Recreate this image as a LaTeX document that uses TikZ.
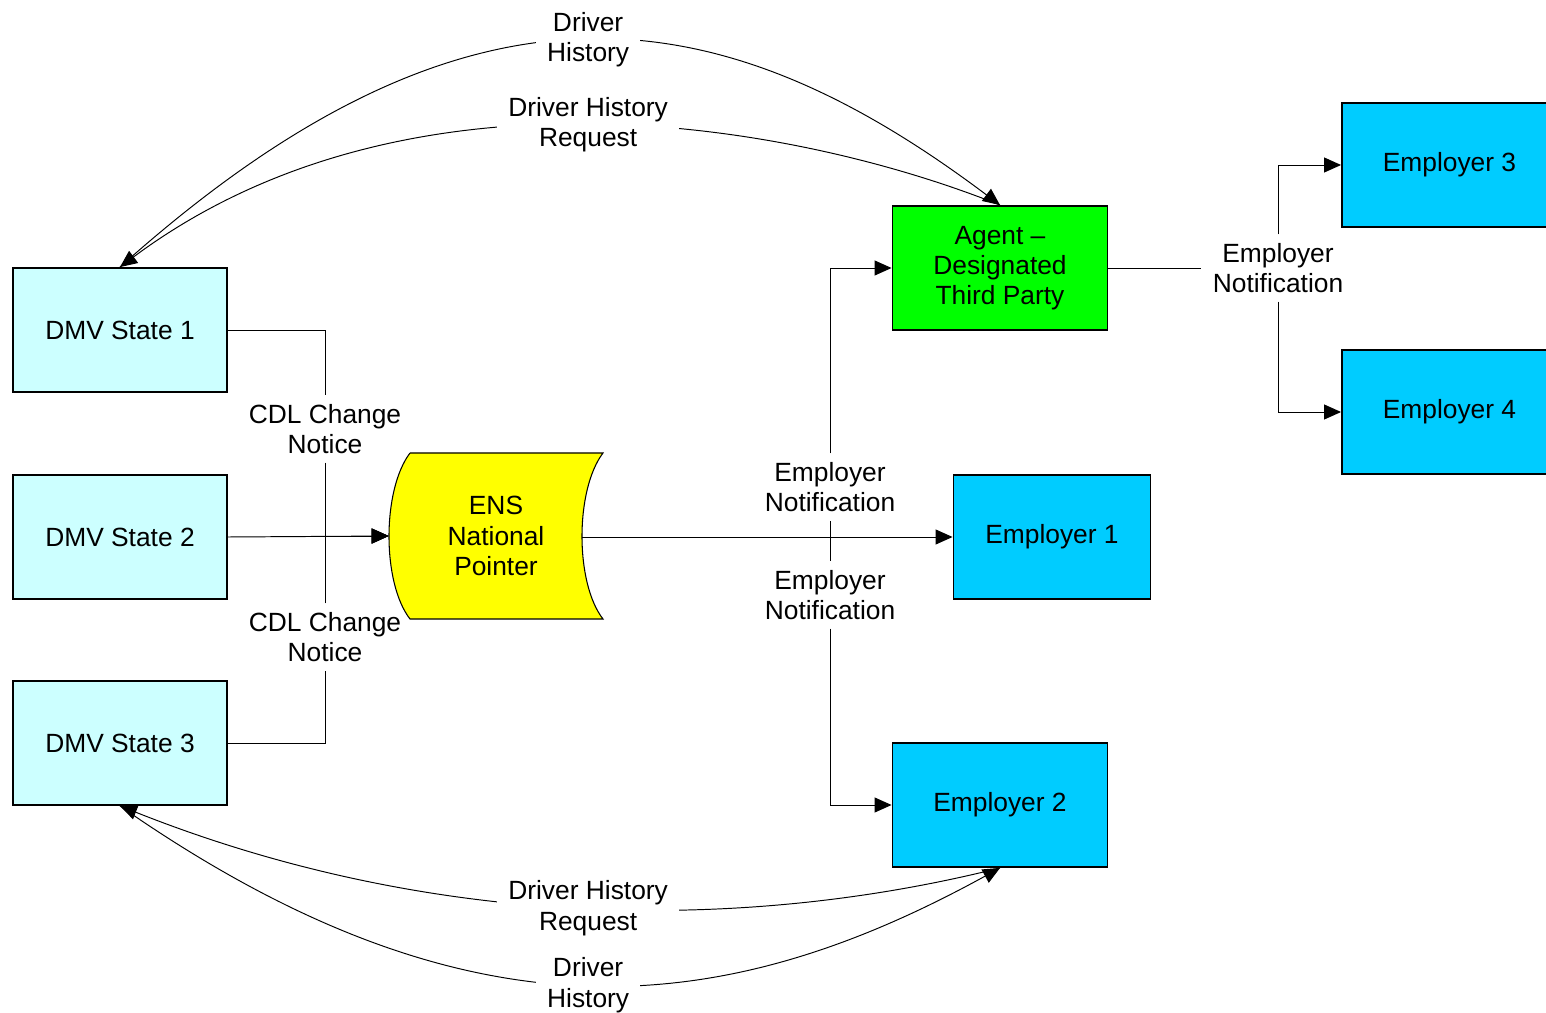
\documentclass[tikz,border=0pt]{standalone}
\usepackage{fontspec}
\setmainfont{Liberation Sans}
\usetikzlibrary{arrows.meta}
\definecolor{dmvcyan}{HTML}{CCFFFF}
\definecolor{agentgreen}{HTML}{00FF00}
\definecolor{empblue}{HTML}{00CCFF}
\definecolor{ensyellow}{HTML}{FFFF00}
\begin{document}
\begin{tikzpicture}[x=0.02cm,y=-0.02cm,
  every node/.style={font=\fontsize{15}{17.2}\selectfont, align=center},
  box/.style={draw=black, line width=1.1pt, minimum height=2.48cm, inner sep=0pt},
  dmv/.style={box, fill=dmvcyan, minimum width=4.28cm},
  agentbox/.style={box, fill=agentgreen, minimum width=4.3cm},
  empbox/.style={box, fill=empblue, minimum width=4.3cm},
  lbl/.style={fill=white, inner xsep=0.22cm, inner ysep=0.17cm},
  link/.style={line width=0.55pt},
  flow/.style={link, -{Triangle[length=3.4mm,width=3mm]}}]
\useasboundingbox (0,0) rectangle (1546,1013);
\clip (0,0) rectangle (1546,1013);
%boxes
\node[dmv] (dmv1) at (120,330) {DMV State 1};
\node[dmv] (dmv2) at (120,537) {DMV State 2};
\node[dmv] (dmv3) at (120,743) {DMV State 3};
\node[agentbox] (agent) at (1000,268) {Agent --\\Designated\\Third Party};
\node[empbox, minimum width=3.94cm] (emp1) at (1052,537) {Employer 1};
\node[empbox] (emp2) at (1000,805) {Employer 2};
\node[empbox] (emp3) at (1449.5,165) {Employer 3};
\node[empbox] (emp4) at (1449.5,412) {Employer 4};
\coordinate (ensW) at (389,537);
\coordinate (ensR) at (582,537);
%labels
\node[lbl] (cdlA) at (325,429) {CDL Change\\Notice};
\node[lbl] (cdlB) at (325,637) {CDL Change\\Notice};
\node[lbl] (enA) at (830,487) {Employer\\Notification};
\node[lbl] (enB) at (830,595) {Employer\\Notification};
\node[lbl] (enC) at (1278,268) {Employer\\Notification};
%ENS pointer
\filldraw[fill=ensyellow, draw=black, line width=0.6pt] (410,453) -- (603,453)
  .. controls (575,490) and (575,583) .. (603,619) -- (410,619)
  .. controls (382,583) and (382,490) .. (410,453);
\node[minimum width=4.28cm, minimum height=3.32cm, inner sep=0pt] (ens) at (496,536) {ENS\\National\\Pointer};
%CDL notices
\draw[link] (dmv1.east) -| (cdlA.north);
\draw[flow] (cdlA.south) |- (ens.west);
\draw[flow] (dmv2.east) -- (ens.west);
\draw[link] (dmv3.east) -| (cdlB.south);
\draw[flow] (cdlB.north) |- (ens.west);
%employer notifications
\draw[flow] (ensR) -- (emp1.west);
\draw[link] (ensR) -| (enA.south);
\draw[flow] (enA.north) |- (agent.west);
\draw[link] (ensR) -| (enB.north);
\draw[flow] (enB.south) |- (emp2.west);
\draw[link] (agent.east) -- (enC.west);
\draw[flow] (enC.north) |- (emp3.west);
\draw[flow] (enC.south) |- (emp4.west);
%driver history
\draw[flow] (dmv1.north) .. controls (472,-48) and (723,-3) .. node[lbl, midway] (dhA) {Driver\\History} (agent.north);
\draw[flow] (agent.north) .. controls (790,121) and (405,55) .. node[lbl, midway] (dhrA) {Driver History\\Request} (dmv1.north);
\draw[flow] (dmv3.south) .. controls (470,1050) and (725,1019) .. node[lbl, midway] (dhB) {Driver\\History} (emp2.south);
\draw[flow] (emp2.south) .. controls (753,930) and (442,934) .. node[lbl, midway] (dhrB) {Driver History\\Request} (dmv3.south);
\end{tikzpicture}
\end{document}
